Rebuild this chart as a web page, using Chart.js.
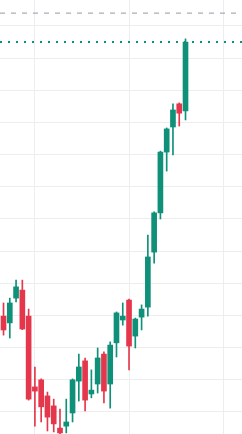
<!DOCTYPE html>
<html>
<head>
<meta charset="utf-8">
<script src="https://cdn.jsdelivr.net/npm/chart.js@4"></script>
<style>
html,body{margin:0;padding:0;background:#ffffff;overflow:hidden;}
#wrap{width:242px;height:434px;position:relative;}
</style>
</head>
<body>
<div id="wrap"><canvas id="c" width="242" height="434"></canvas></div>
<script>
// candle index (categories)
const candleIndex = [0,1,2,3,4,5,6,7,8,9,10,11,12,13,14,15,16,17,18,19,20,21,22,23,24,25,26,27,28,29];
const opens  = [129.8,127.7,135.4,137.9,129.8,107.8,110.0,105.0,101.9,95.0,95.6,99.7,109.6,115.9,105.6,108.7,118.0,108.7,121.5,128.6,134.8,123.6,129.5,132.6,149.7,161.9,180.8,188.6,195.8,193.6];
const highs  = [133.9,135.4,141.0,141.0,132.0,114.0,110.3,106.2,104.0,100.9,104.0,110.3,118.0,116.8,113.1,119.9,118.7,121.8,131.1,133.9,135.1,129.2,133.3,155.0,162.2,181.1,188.3,195.8,196.1,216.0];
const lows   = [123.9,123.0,134.2,125.6,103.7,95.6,96.9,94.1,93.8,93.2,93.5,96.9,103.4,100.3,104.4,105.9,102.8,101.2,117.1,127.0,113.1,119.9,125.5,129.8,146.3,160.0,174.9,179.9,188.9,190.8];
const closes = [125.5,133.9,138.9,125.8,104.0,106.5,101.6,98.4,96.3,93.5,96.9,110.0,114.0,103.7,106.8,116.8,106.5,120.8,130.8,129.8,120.5,128.9,132.0,148.2,161.9,180.8,188.0,193.9,192.9,215.0];
// grid positions (tick values)
const gridPrices = [100,110,120,130,140,150,160,170,180,190,200,210,220];
const gridIndices = [5,20,35];
// horizontal price lines
const lastPriceLine = 215.0;
const markerLine = 224.0;

const UP = '#0f9078', DOWN = '#e5374c';
const colors = candleIndex.map((_, i) => closes[i] >= opens[i] ? UP : DOWN);

const bodies = candleIndex.map((x, i) => ({x: x, y: [opens[i], closes[i]]}));
const wicks = candleIndex.map((x, i) => ({x: x, y: [lows[i], highs[i]]}));

const X_MIN = -0.56, X_MAX = 38.0;
const Y_MIN = 93.16, Y_MAX = 228.08;

new Chart(document.getElementById('c'), {
  type: 'bar',
  data: {
    datasets: [
      {type:'line', data:[{x:X_MIN,y:markerLine},{x:X_MAX,y:markerLine}], borderColor:'#9598a1', borderWidth:1, borderDash:[5,6], pointRadius:0, order:0},
      {type:'line', data:[{x:X_MIN,y:lastPriceLine},{x:X_MAX,y:lastPriceLine}], borderColor:UP, borderWidth:2, borderDash:[2,6], pointRadius:0, order:0},
      {data: bodies, backgroundColor: colors, borderWidth:0, barThickness:5, grouped:false, order:1},
      {data: wicks, backgroundColor: colors, borderWidth:0, barThickness:1, grouped:false, order:2}
    ]
  },
  options: {
    responsive:false,
    animation:false,
    devicePixelRatio:1,
    layout:{padding:0},
    plugins:{legend:{display:false}, tooltip:{enabled:false}},
    scales:{
      x:{
        type:'linear', min:X_MIN, max:X_MAX, offset:false,
        border:{display:false},
        grid:{color:'#ededf0', drawTicks:false, lineWidth:1, offset:false},
        ticks:{display:false},
        afterBuildTicks:(s)=>{ s.ticks = gridIndices.map(v=>({value:v})); },
        afterFit:(s)=>{ s.height = 0; }
      },
      y:{
        type:'linear', min:Y_MIN, max:Y_MAX,
        border:{display:false},
        grid:{color:'#ededf0', drawTicks:false, lineWidth:1},
        ticks:{display:false},
        afterBuildTicks:(s)=>{ s.ticks = gridPrices.map(v=>({value:v})); },
        afterFit:(s)=>{ s.width = 0; }
      }
    }
  }
});
</script>
</body>
</html>
